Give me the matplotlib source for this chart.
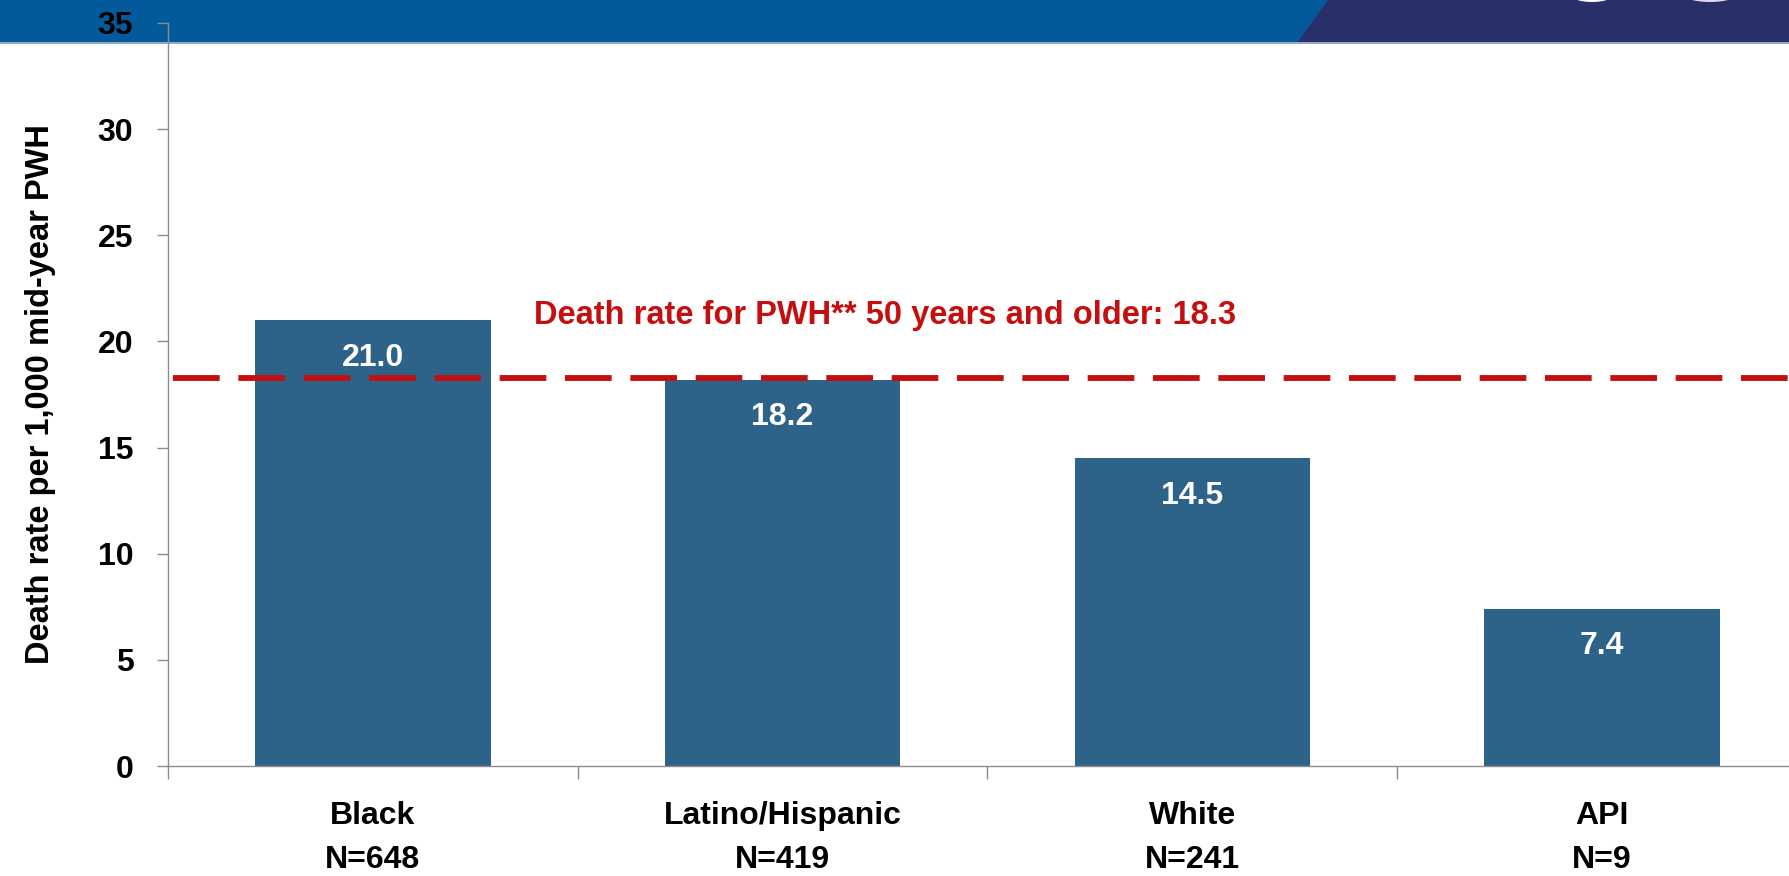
import matplotlib.pyplot as plt
from matplotlib.patches import Polygon, Rectangle, Ellipse

# -------------------------------
# Data
# -------------------------------
groups = ['Black', 'Latino/Hispanic', 'White', 'API']
counts = [648, 419, 241, 9]
rates = [21.0, 18.2, 14.5, 7.4]
overall_rate = 18.3  # PWH 50 years and older

bar_color = '#2E6389'
red = '#C50F0F'
plt.rcParams['font.family'] = ['Liberation Sans', 'DejaVu Sans']
plt.rcParams['font.weight'] = 'bold'
fs = 23

W, H = 1790, 876
fig = plt.figure(figsize=(W / 100, H / 100), dpi=100)

# -------------------------------
# Slide header band
# -------------------------------
bg = fig.add_axes([0, 0, 1, 1], zorder=0)
bg.set_xlim(0, W)
bg.set_ylim(H, 0)
bg.axis('off')
bg.add_patch(Rectangle((0, 0), W, 43, color='#035A9A', lw=0))
bg.add_patch(Polygon([(1297, 43), (1328, 0), (W, 0), (W, 43)], closed=True,
                     color='#282F69', lw=0))
bg.add_patch(Rectangle((0, 42), W, 2, color='#8FA9C8', lw=0))
bg.add_patch(Ellipse((1592, -8), 50, 20, color='white', lw=0))
bg.add_patch(Ellipse((1710, -8), 60, 20, color='#E4D6EC', lw=0))

# -------------------------------
# Bar chart
# -------------------------------
ax = fig.add_axes([168 / W, 1 - 766 / H, (1807 - 168) / W, (766 - 23) / H], zorder=1)
ax.patch.set_alpha(0)
x = list(range(len(groups)))
ax.bar(x, rates, width=0.575, color=bar_color, zorder=2)

for xi, v in zip(x, rates):
    ax.annotate(f'{v:.1f}', (xi, v), xytext=(0, -27), textcoords='offset points',
                ha='center', va='center', color='white', fontsize=fs,
                fontweight='bold', zorder=3)

# reference line for all PWH 50+
ax.axhline(overall_rate, xmin=0.003, xmax=1, color=red, lw=4.2,
           dashes=(8, 3.2), zorder=4)
ax.text(1.25, 21.2, f'Death rate for PWH** 50 years and older: {overall_rate}',
        ha='center', va='center', color=red, fontsize=23.5, fontweight='bold')

ax.set_xlim(-0.5, 3.5)
ax.set_ylim(0, 35)
ax.set_yticks(range(0, 36, 5))
ax.set_xticks(x)
ax.set_xticklabels([f'{g}\nN={n}' for g, n in zip(groups, counts)],
                   linespacing=1.6)
ax.set_xticks([-0.5, 0.5, 1.5, 2.5, 3.5], minor=True)
ax.tick_params(axis='x', which='major', length=0, pad=25, labelsize=fs)
ax.tick_params(axis='x', which='minor', length=9, color='#8C8C8C', width=1)
ax.tick_params(axis='y', length=8, color='#8C8C8C', width=1, pad=17, labelsize=fs)
for lab in ax.get_xticklabels() + ax.get_yticklabels():
    lab.set_fontweight('bold')

ax.set_ylabel('Death rate per 1,000 mid-year PWH', fontsize=23.5,
              fontweight='bold', labelpad=30)

for side in ['top', 'right']:
    ax.spines[side].set_visible(False)
for side in ['left', 'bottom']:
    ax.spines[side].set_color('#8C8C8C')
    ax.spines[side].set_linewidth(1)

fig.savefig('out.png', dpi=100)
